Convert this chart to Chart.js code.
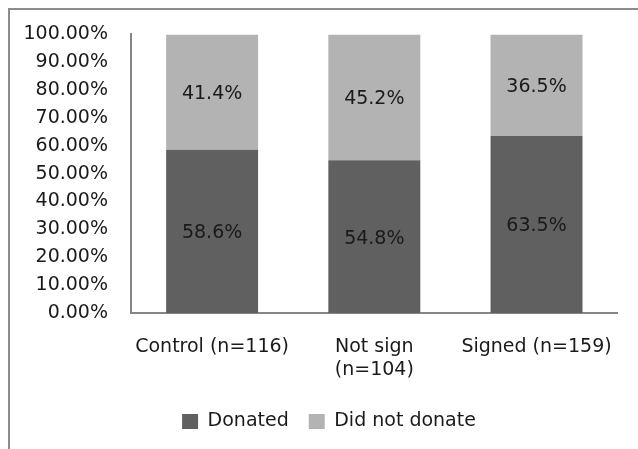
<!DOCTYPE html>
<html>
<head>
<meta charset="utf-8">
<script src="https://cdn.jsdelivr.net/npm/chart.js@4.4.0/dist/chart.umd.min.js"></script>
<style>
  html, body { margin: 0; padding: 0; background: #fff; }
  #wrap { position: relative; width: 638px; height: 449px; overflow: hidden; }
  #frame { position: absolute; left: 8px; top: 8px; width: 700px; height: 500px;
           border-left: 2px solid #8c8c8c; border-top: 2px solid #8c8c8c; pointer-events: none; }
</style>
</head>
<body>
<div id="wrap">
  <canvas id="myChart" width="638" height="449"></canvas>
  <div id="frame"></div>
</div>
<script>
// categories and values
var groups = [['Control (n=116)'], ['Not sign', '(n=104)'], ['Signed (n=159)']];
var donated = [58.6, 54.8, 63.5];
var notDonated = [41.4, 45.2, 36.5];
var yTicks = [0, 10, 20, 30, 40, 50, 60, 70, 80, 90, 100];

var font = 'DejaVu Sans';
var fontSize = 19;

// writes the percentage in the middle of every bar segment
var segmentLabels = {
  id: 'segmentLabels',
  afterLayout: function(chart) {
    // legend sits a little right of centre in the original
    chart.legend.left += 10;
    chart.legend.right += 10;
  },
  afterDatasetsDraw: function(chart) {
    var ctx = chart.ctx;
    ctx.save();
    ctx.font = fontSize + 'px "' + font + '"';
    ctx.fillStyle = '#1a1a1a';
    ctx.textAlign = 'center';
    ctx.textBaseline = 'middle';
    chart.data.datasets.forEach(function(ds, i) {
      chart.getDatasetMeta(i).data.forEach(function(bar, j) {
        var mid = (bar.y + bar.base) / 2;
        ctx.fillText(ds.data[j].toFixed(1) + '%', bar.x, mid + 2);
      });
    });
    ctx.restore();
  }
};

var ctx = document.getElementById('myChart').getContext('2d');
var chart = new Chart(ctx, {
  type: 'bar',
  data: {
    labels: groups,
    datasets: [
      {
        label: 'Donated',
        data: donated,
        backgroundColor: '#606060',
        borderWidth: 0
      },
      {
        label: 'Did not donate',
        data: notDonated,
        backgroundColor: '#b3b3b3',
        borderWidth: 0
      }
    ]
  },
  options: {
    responsive: false,
    animation: false,
    layout: { padding: { left: 20, right: 20, top: 33, bottom: 8 } },
    datasets: { bar: { categoryPercentage: 1, barPercentage: 0.567 } },
    plugins: {
      tooltip: { enabled: false },
      legend: {
        position: 'bottom',
        labels: {
          boxWidth: 16,
          boxHeight: 15,
          padding: 20,
          color: '#1a1a1a',
          font: { family: font, size: fontSize }
        }
      }
    },
    scales: {
      x: {
        stacked: true,
        grid: { display: false, drawTicks: false },
        border: { display: true, color: '#868686', width: 2 },
        ticks: { padding: 23, color: '#1a1a1a', font: { family: font, size: fontSize }, maxRotation: 0 },
        afterFit: function(scale) { scale.height = 79; }
      },
      y: {
        stacked: true,
        min: 0,
        max: 100,
        grid: { display: false, drawTicks: false },
        border: { display: true, color: '#868686', width: 2 },
        afterBuildTicks: function(scale) {
          scale.ticks = yTicks.map(function(v) { return { value: v }; });
        },
        ticks: {
          padding: 23,
          color: '#1a1a1a',
          font: { family: font, size: fontSize },
          callback: function(v) { return v.toFixed(2) + '%'; }
        },
        afterFit: function(scale) { scale.width = 111; }
      }
    }
  },
  plugins: [segmentLabels]
});
</script>
</body>
</html>
